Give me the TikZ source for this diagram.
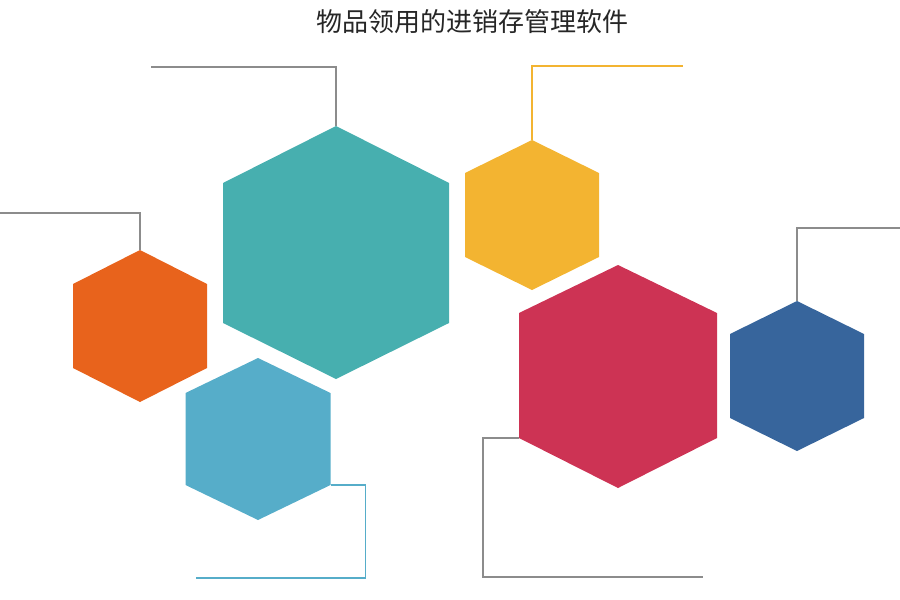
\documentclass[tikz,border=0pt]{standalone}
\usepackage{fontspec}
\newfontfamily\cjk{Noto Sans CJK SC}
\definecolor{hexteal}{HTML}{47AFAF}
\definecolor{hexorange}{HTML}{E8631C}
\definecolor{hexsky}{HTML}{56ADC9}
\definecolor{hexyellow}{HTML}{F3B431}
\definecolor{hexred}{HTML}{CD3354}
\definecolor{hexblue}{HTML}{37659C}
\definecolor{leadgray}{HTML}{8C8C8C}
\tikzset{
	leader/.style={draw=leadgray, line width=1.2pt},
	title/.style={font=\cjk\fontsize{26}{30}\selectfont, text=black!85},
}
% name, colour, x, top, upper side, lower side, bottom, half width
\newcommand{\hexa}[8]{%
	\fill[#2] (#3,#4) -- (#3+#8,#5) -- (#3+#8,#6) -- (#3,#7) -- (#3-#8,#6) -- (#3-#8,#5) -- cycle;
	\coordinate (#1-top) at (#3,#4);
	\coordinate (#1-left) at (#3-#8,#6);
	\coordinate (#1-right) at (#3+#8,#6);
}
\begin{document}
\begin{tikzpicture}[x=1pt,y=-1pt]
	\useasboundingbox (0,0) rectangle (900,600);
	\node[title] (head) at (472,22) {物品领用的进销存管理软件};

	% the hexagons
	\hexa{teal}{hexteal}{336}{126}{183}{323}{379}{113}
	\hexa{orange}{hexorange}{140}{250}{284}{368}{402}{67}
	\hexa{sky}{hexsky}{258}{358}{393}{485}{520}{72.5}
	\hexa{yellow}{hexyellow}{532}{140}{173}{257}{290}{67}
	\hexa{red}{hexred}{618}{265}{313}{438}{488}{99}
	\hexa{blue}{hexblue}{797}{301}{334}{418}{451}{67}

	% the leaders
	\coordinate (teal-end) at (151,67);
	\coordinate (yellow-end) at (683,66);
	\coordinate (orange-end) at (0,213);
	\coordinate (blue-end) at (900,228);
	\coordinate (sky-end) at (196,578);
	\coordinate (red-end) at (703,577);
	\draw[leader] (teal-top) |- (teal-end);
	\draw[leader, draw=hexyellow] (yellow-top) |- (yellow-end);
	\draw[leader] (orange-top) |- (orange-end);
	\draw[leader] (blue-top) |- (blue-end);
	\draw[leader, draw=hexsky] (sky-right) -- ++(35,0) |- (sky-end);
	\draw[leader] (red-left) -- ++(-36,0) |- (red-end);
\end{tikzpicture}
\end{document}
